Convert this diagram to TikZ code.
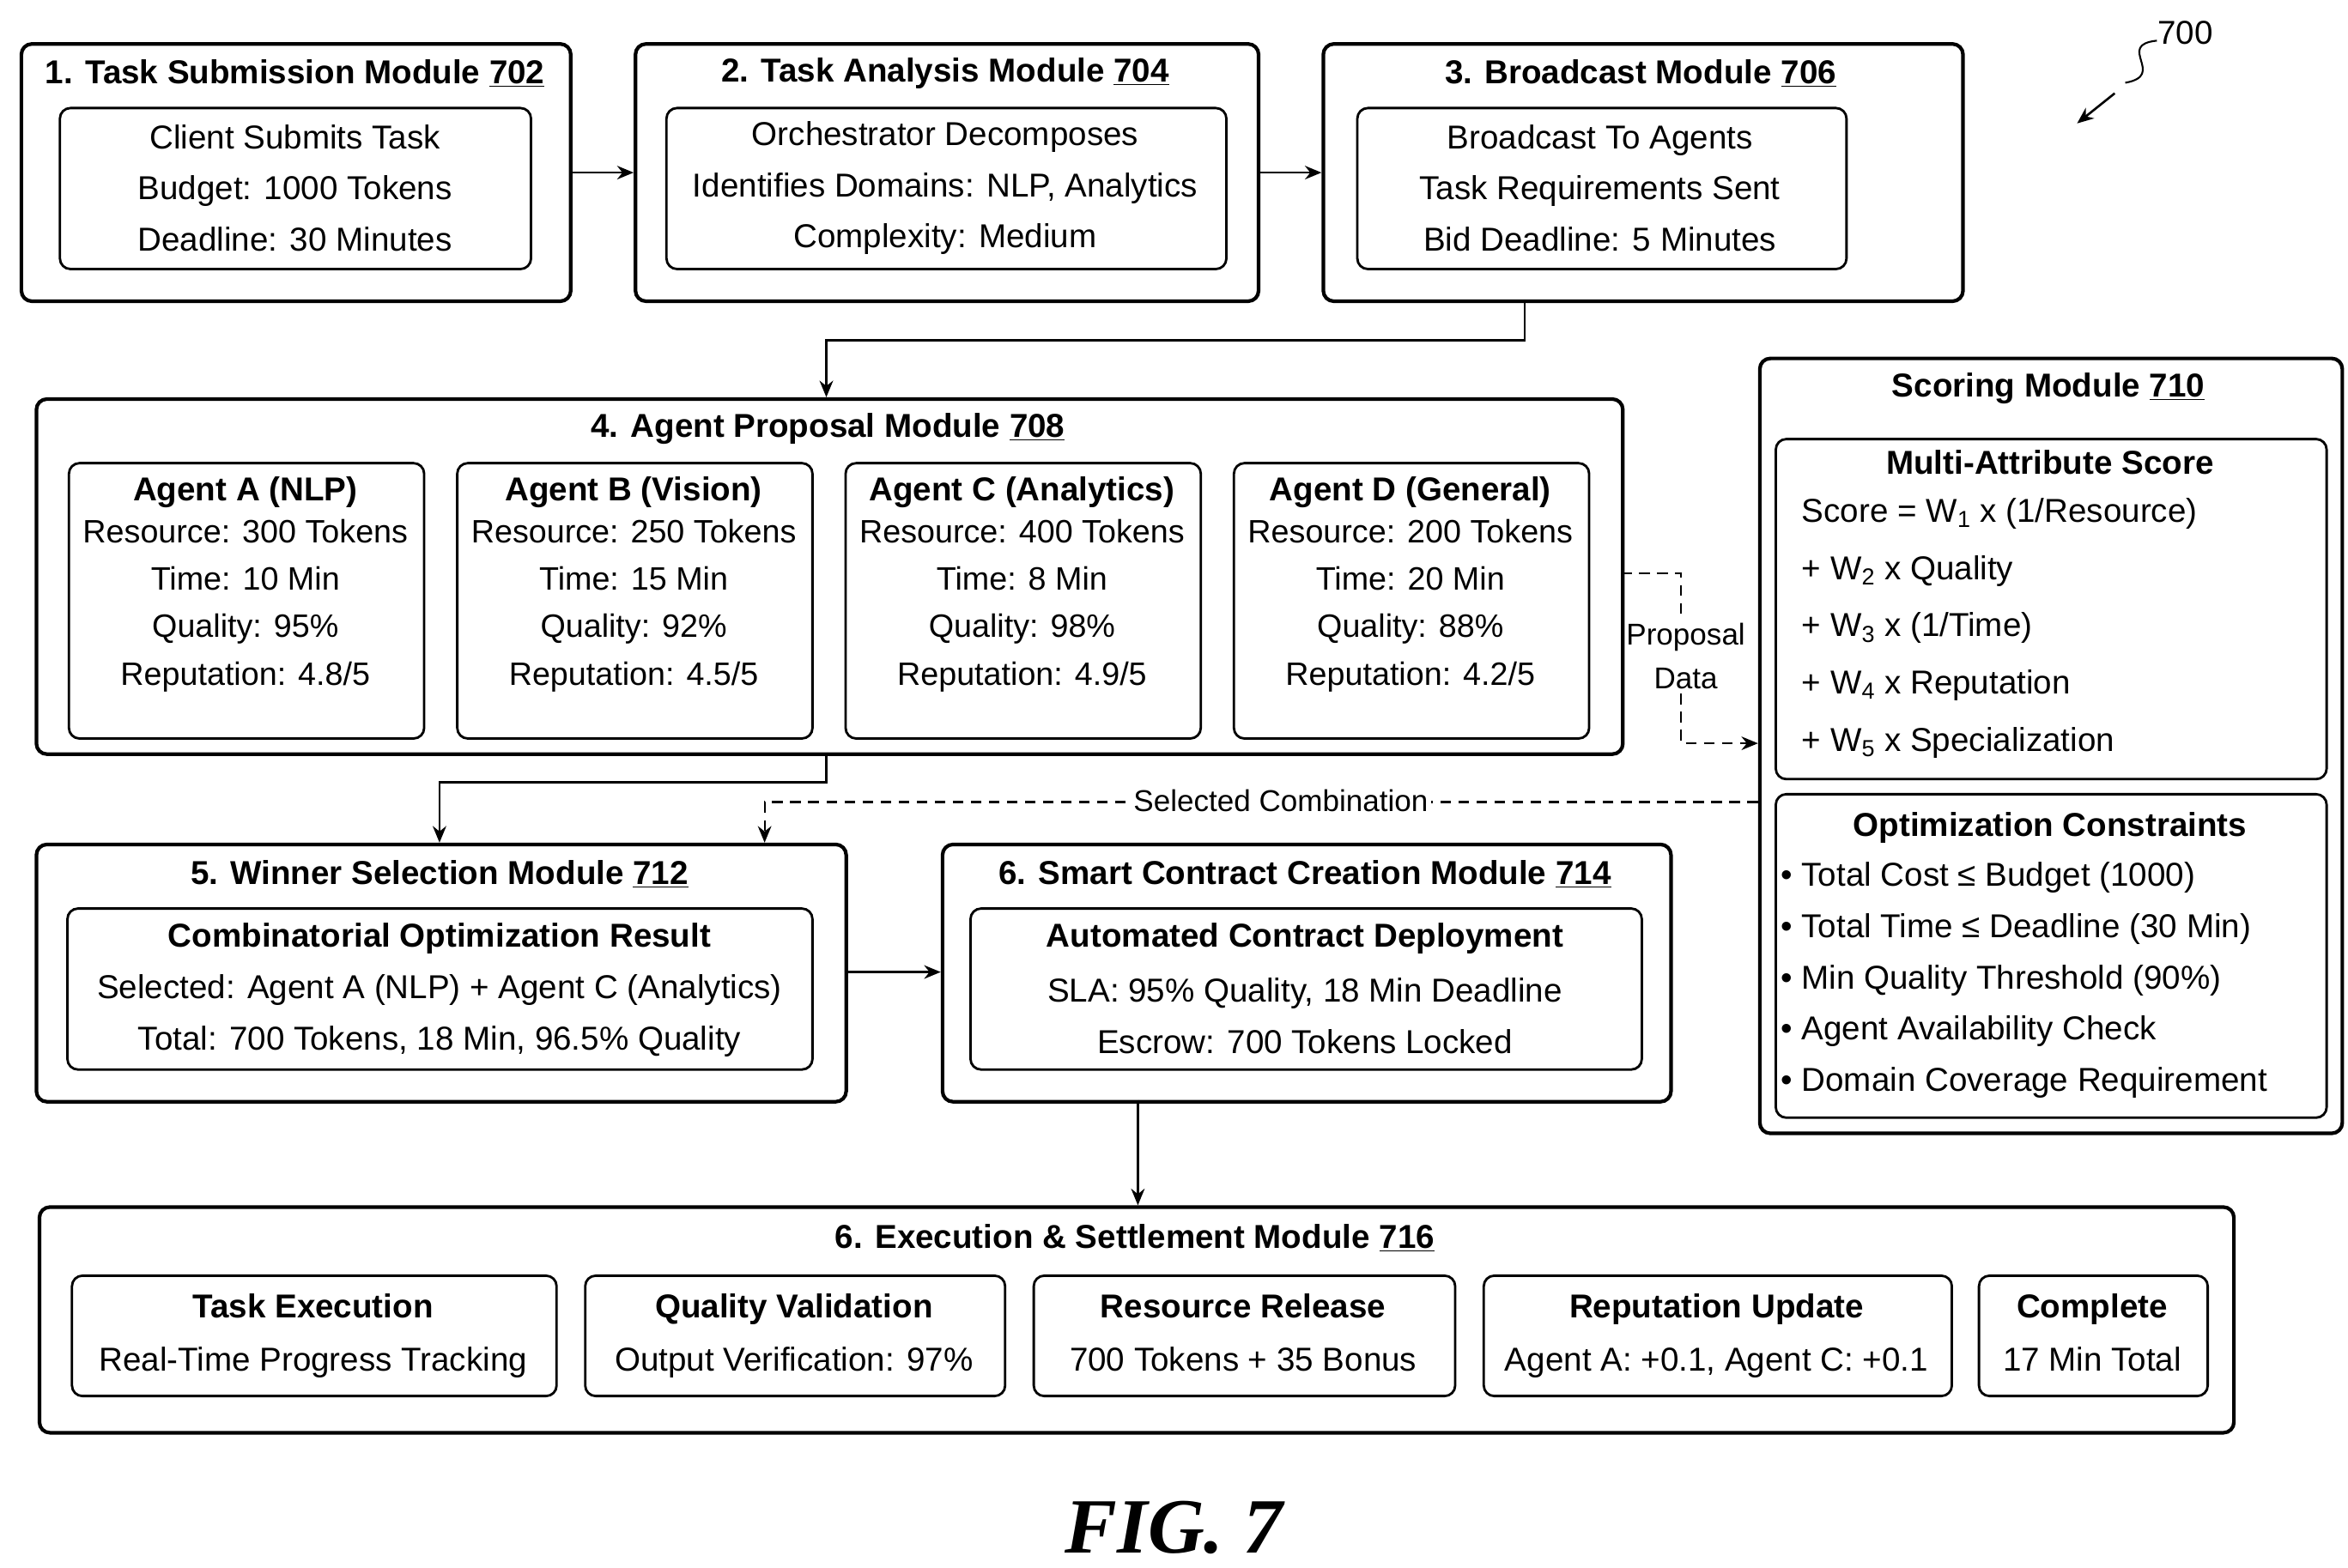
\documentclass[tikz,border=0pt]{standalone}
\usepackage{fontspec}
\setmainfont{Liberation Sans}
\newfontfamily\seriff{Liberation Serif}
\usetikzlibrary{arrows.meta,calc}
\newcommand{\bx}[6][]{\node[#1,minimum width=#4pt-#2pt,minimum height=#5pt-#3pt,anchor=north west] (#6) at (#2,#3) {};}
\begin{document}
\begin{tikzpicture}[x=1pt,y=-1pt,
 outer/.style={draw,line width=2.4pt,rounded corners=7pt,inner sep=0},
 inner/.style={draw,line width=1.6pt,rounded corners=7pt,inner sep=0},
 t/.style={font=\fontsize{22}{34}\selectfont,align=center,inner sep=0},
 tb/.style={font=\fontsize{22}{34}\selectfont\bfseries,align=center,inner sep=0},
 arr/.style={line width=1.5pt,-{Stealth[length=11pt,width=9pt]}},
 darr/.style={line width=1.3pt,dash pattern=on 7pt off 5pt,-{Stealth[length=11pt,width=9pt]}}]
\useasboundingbox (0,0) rectangle (1560,1042);
% row 1
\bx[outer]{13}{28}{378}{199}{b1}\bx[inner]{39}{71}{352}{178}{i1}
\node[tb] at (196,49) {1. Task Submission Module \underline{702}};
\node[t] at (196,125) {Client Submits Task\\Budget: 1000 Tokens\\Deadline: 30 Minutes};
\bx[outer]{421}{28}{835}{199}{b2}\bx[inner]{442}{71}{814}{178}{i2}
\node[tb] at (628,49) {2. Task Analysis Module \underline{704}};
\node[t] at (628,125) {Orchestrator Decomposes\\Identifies Domains: NLP, Analytics\\Complexity: Medium};
\bx[outer]{878}{28}{1303}{199}{b3}\bx[inner]{901}{71}{1226}{178}{i3}
\node[tb] at (1090,49) {3. Broadcast Module \underline{706}};
\node[t] at (1063,125) {Broadcast To Agents\\Task Requirements Sent\\Bid Deadline: 5 Minutes};
\draw[arr] (b1.east) -- (b2.west);
\draw[arr] (b2.east) -- (b3.west);
% 700
\node[font=\fontsize{22}{28}\selectfont,inner sep=0] (n700) at (1452,22) {700};
\draw[line width=1.2pt] (1433,27) .. controls (1405,30) and (1440,50) .. (1412,55);
\draw[arr] (1405,62) -- (1380,82);
% row 2
\bx[outer]{23}{264}{1077}{500}{b4}
\node[tb] at (550,285) {4. Agent Proposal Module \underline{708}};
\foreach \x/\n/\r/\tm/\q/\rep [count=\i] in {45/Agent A (NLP)/300/10/95/4.8,303/Agent B (Vision)/250/15/92/4.5,561/Agent C (Analytics)/400/8/98/4.9,819/Agent D (General)/200/20/88/4.2}{
 \bx[inner]{\x}{307}{\x+236}{490}{ag\i}
 \node[tb] at (\x+118,327) {\n};
 \node[t,anchor=north,font=\fontsize{21.5}{31.5}\selectfont] at (\x+118,345) {Resource: \r\ Tokens\\Time: \tm\ Min\\Quality: \q\%\\Reputation: \rep/5};
}
\draw[arr] (1013,199) -- (1013,226) -- (549,226) -- (549,264);
% scoring
\bx[outer]{1168}{237}{1555}{752}{b5}
\node[tb] at (1361,258) {Scoring Module \underline{710}};
\bx[inner]{1179}{291}{1545}{517}{s1}
\node[tb] at (1362,307) {Multi-Attribute Score};
\node[t,anchor=north west,align=left] at (1197,331) {Score = W\textsubscript{1} x (1/Resource)\\[4pt]+ W\textsubscript{2} x Quality\\[4pt]+ W\textsubscript{3} x (1/Time)\\[4pt]+ W\textsubscript{4} x Reputation\\[4pt]+ W\textsubscript{5} x Specialization};
\bx[inner]{1179}{527}{1545}{742}{s2}
\node[tb] at (1362,550) {Optimization Constraints};
\node[t,anchor=north west,align=left] at (1183,573) {• Total Cost ≤ Budget (1000)\\• Total Time ≤ Deadline (30 Min)\\• Min Quality Threshold (90\%)\\• Agent Availability Check\\• Domain Coverage Requirement};
\draw[darr] (1077,381) -- (1117,381) -- (1117,494) -- (1168,494);
\node[t,fill=white,inner sep=1pt,font=\fontsize{20}{29}\selectfont] at (1120,436) {Proposal\\Data};
% row 3
\bx[outer]{23}{560}{561}{731}{b6}\bx[inner]{44}{603}{539}{710}{i6}
\node[tb] at (292,581) {5. Winner Selection Module \underline{712}};
\node[tb] at (292,624) {Combinatorial Optimization Result};
\node[t] at (292,675) {Selected: Agent A (NLP) + Agent C (Analytics)\\Total: 700 Tokens, 18 Min, 96.5\% Quality};
\bx[outer]{625}{560}{1109}{731}{b7}\bx[inner]{644}{603}{1090}{710}{i7}
\node[tb] at (867,581) {6. Smart Contract Creation Module \underline{714}};
\node[tb] at (867,624) {Automated Contract Deployment};
\node[t] at (867,675) {SLA: 95\% Quality, 18 Min Deadline\\Escrow: 700 Tokens Locked};
\draw[arr] (549,500) -- (549,520) -- (292,520) -- (292,560);
\draw[darr] (1168,533) -- (508,533) -- (508,560);
\node[t,fill=white,inner sep=2pt,font=\fontsize{20}{24}\selectfont] at (851,532) {Selected Combination};
\draw[arr] (561,646) -- (625,646);
% row 4
\bx[outer]{25}{801}{1483}{951}{b8}
\node[tb] at (754,823) {6. Execution \& Settlement Module \underline{716}};
\draw[arr] (756,731) -- (756,801);
\foreach \a/\b/\h/\l [count=\i] in {47/369/Task Execution/Real-Time Progress Tracking,388/667/Quality Validation/Output Verification: 97\%,686/966/Resource Release/700 Tokens + 35 Bonus,985/1296/Reputation Update/{Agent A: +0.1, Agent C: +0.1},1314/1466/Complete/17 Min Total}{
 \bx[inner]{\a}{847}{\b}{927}{e\i}
 \node[tb,anchor=base] at ({(\a+\b)/2},876) {\h};
 \node[t,anchor=base] at ({(\a+\b)/2},911) {\l};
}
\node[font=\fontsize{52}{60}\selectfont\seriff\bfseries\itshape] at (780,1015) {FIG. 7};
\end{tikzpicture}
\end{document}
